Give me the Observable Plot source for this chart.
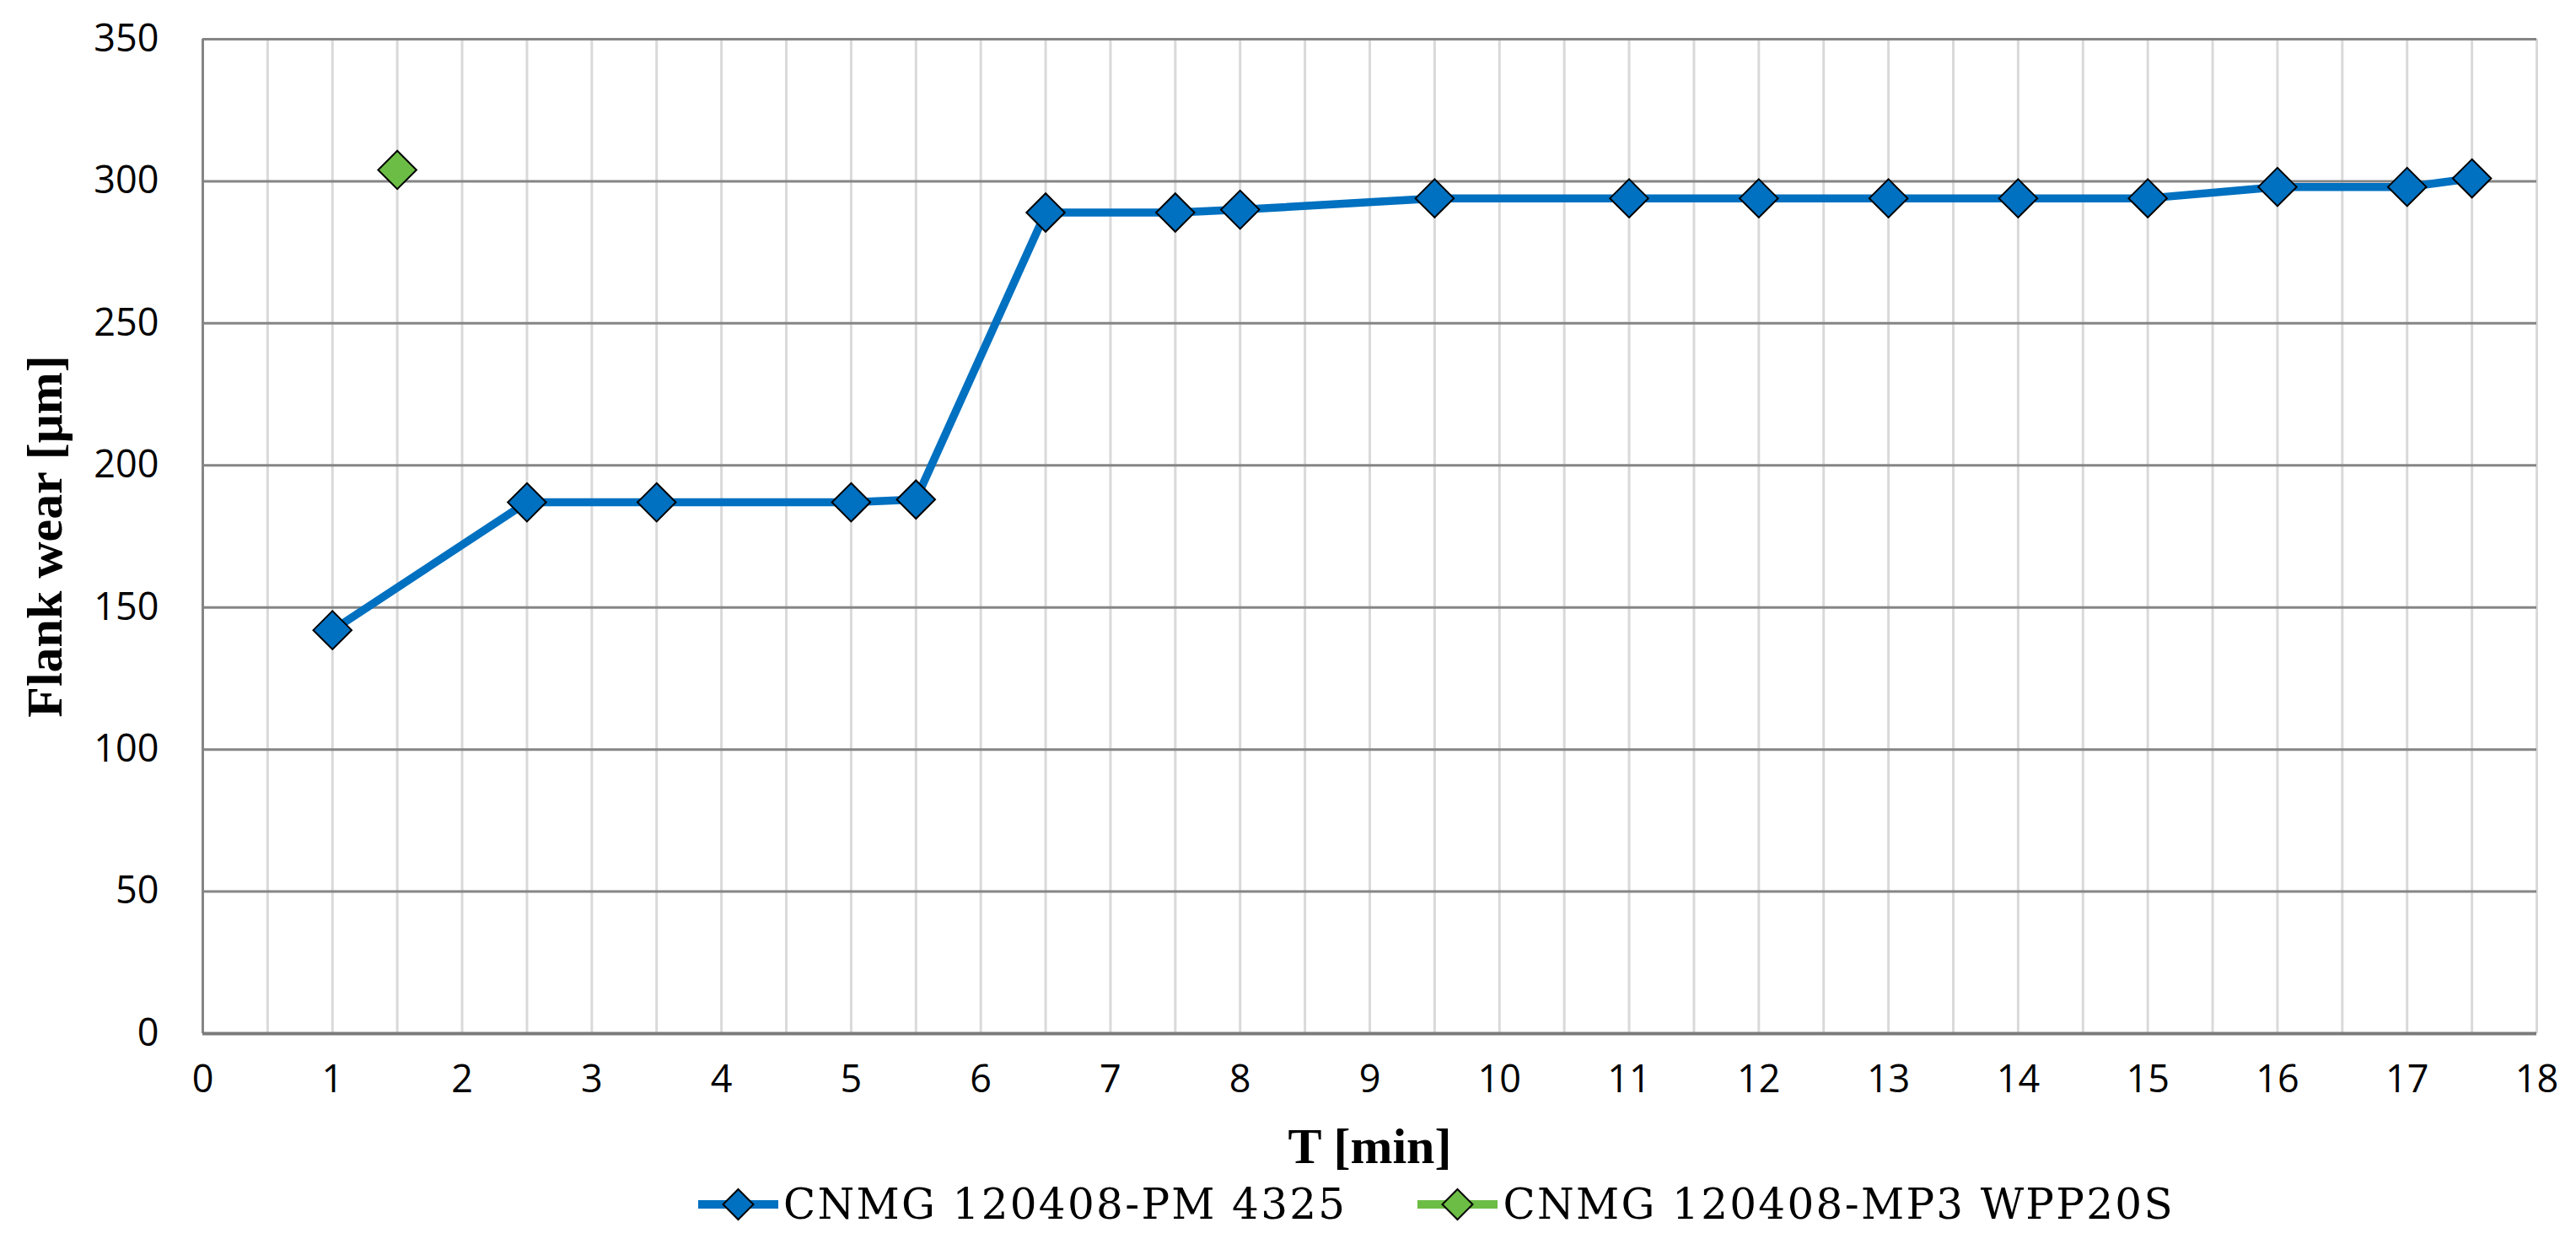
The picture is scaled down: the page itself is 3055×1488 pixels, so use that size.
<!DOCTYPE html>
<html>
<head>
<meta charset="utf-8">
<script src="https://cdn.jsdelivr.net/npm/d3@7"></script>
<script src="https://cdn.jsdelivr.net/npm/@observablehq/plot@0.6"></script>
<style>
  html, body { margin: 0; padding: 0; background: #fff; }
  body { width: 3055px; height: 1488px; position: relative; overflow: hidden; }
  #chart svg { display: block; overflow: visible; }
  g[aria-label="x-axis label"] text, g[aria-label="y-axis label"] text {
    font-family: "Liberation Serif", serif; font-weight: bold; font-size: 60px; fill: #000;
  }
  #legend { position: absolute; left: 828px; top: 1390px; height: 76px; display: flex; align-items: center;
    font-family: "DejaVu Serif", serif; font-size: 50px; letter-spacing: 2.3px; color: #000; white-space: nowrap; }
  .item { display: flex; align-items: center; }
  .item + .item { margin-left: 84px; }
  .item svg { margin-right: 6px; }
</style>
</head>
<body>
<div id="chart"></div>
<div id="legend"></div>
<script>
// Series 1: CNMG 120408-PM 4325
const timePM = [1, 2.5, 3.5, 5, 5.5, 6.5, 7.5, 8, 9.5, 11, 12, 13, 14, 15, 16, 17, 17.5];
const wearPM = [142, 187, 187, 187, 188, 289, 289, 290, 294, 294, 294, 294, 294, 294, 298, 298, 301];
// Series 2: CNMG 120408-MP3 WPP20S
const timeMP3 = [1.5];
const wearMP3 = [304];

const seriesNames = ["CNMG 120408-PM 4325", "CNMG 120408-MP3 WPP20S"];
const seriesColors = ["#0070C0", "#6CBD45"];

const xTicks = d3.range(0, 19, 1);
const xMinorGrid = d3.range(0, 18.5, 0.5);
const yTicks = [0, 50, 100, 150, 200, 250, 300, 350];

const dataPM = timePM.map((t, i) => ({t, w: wearPM[i], s: seriesNames[0]}));
const dataMP3 = timeMP3.map((t, i) => ({t, w: wearMP3[i], s: seriesNames[1]}));

const chart = Plot.plot({
  width: 3055,
  height: 1390,
  marginLeft: 240,
  marginRight: 47,
  marginTop: 46,
  marginBottom: 165,
  style: {background: "#fff", color: "#000", overflow: "visible"},
  x: {domain: [0, 18]},
  y: {domain: [0, 350]},
  marks: [
    Plot.gridX(xMinorGrid, {stroke: "#d9d9d9", strokeOpacity: 1, strokeWidth: 3}),
    Plot.gridY(yTicks, {stroke: "#858585", strokeOpacity: 1, strokeWidth: 3}),
    Plot.ruleX([0], {stroke: "#858585", strokeWidth: 3}),
    Plot.ruleY([0], {stroke: "#7a7a7a", strokeWidth: 4}),
    Plot.axisX({ticks: xTicks, tickSize: 0, tickPadding: 38, fontSize: 45, fontFamily: "Open Sans",
      label: "T [min]", labelAnchor: "center", labelOffset: 153, labelArrow: "none"}),
    Plot.axisY({ticks: yTicks, tickSize: 0, tickPadding: 52, fontSize: 45, fontFamily: "Open Sans",
      label: "Flank wear [μm]", labelAnchor: "center", labelOffset: 210, labelArrow: "none"}),
    Plot.line(dataPM, {x: "t", y: "w", stroke: seriesColors[0], strokeWidth: 9.5, strokeLinejoin: "round"}),
    Plot.dot(dataPM, {x: "t", y: "w", symbol: "diamond2", r: 20.5, fill: seriesColors[0], stroke: "#000", strokeWidth: 2}),
    Plot.dot(dataMP3, {x: "t", y: "w", symbol: "diamond2", r: 20.5, fill: seriesColors[1], stroke: "#000", strokeWidth: 2})
  ]
});
document.getElementById("chart").appendChild(chart);

// Legend
const legend = document.getElementById("legend");
seriesNames.forEach((name, i) => {
  const item = document.createElement("div");
  item.className = "item";
  item.innerHTML = `<svg width="95" height="40" viewBox="0 0 95 40">
    <line x1="0" y1="20" x2="95" y2="20" stroke="${seriesColors[i]}" stroke-width="10"/>
    <path d="M47.5,2 L65.5,20 L47.5,38 L29.5,20Z" fill="${seriesColors[i]}" stroke="#000" stroke-width="2"/>
  </svg><span>${name}</span>`;
  legend.appendChild(item);
});
</script>
</body>
</html>
